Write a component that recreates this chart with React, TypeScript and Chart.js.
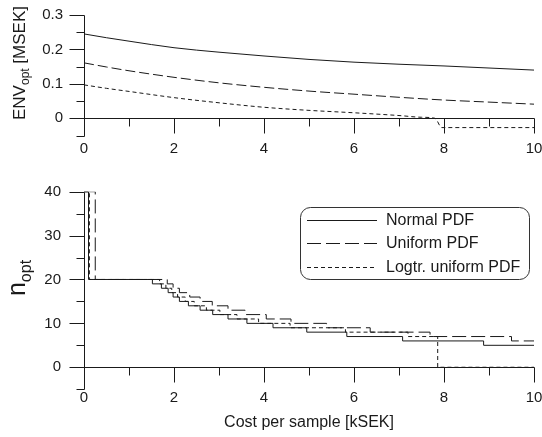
import React, { useEffect, useRef } from 'react';
import { Chart, registerables } from 'chart.js';

Chart.register(...registerables);

const FONT = '"Liberation Sans", Arial, Helvetica, sans-serif';
const INK = '#1a1a1a';

// ---------- shared axis (cost per sample, kSEK)
const costTicks = [0, 2, 4, 6, 8, 10];
const costMinor = [1, 3, 5, 7, 9];

// ---------- top panel: ENV_opt [MSEK]
const envYTicks = [0, 0.1, 0.2, 0.3];
const envYMinor = [-0.05, 0.05, 0.15, 0.25];

const envXNormal = [0, 0.5, 1, 2, 3, 4, 5, 6, 7, 8, 9, 10];
const envNormal = [0.245, 0.234, 0.224, 0.205, 0.192, 0.181, 0.171, 0.163, 0.157, 0.152, 0.146, 0.14];
const envXUniform = [0, 0.5, 1, 2, 3, 4, 5, 6, 7, 8, 9, 10];
const envUniform = [0.161, 0.149, 0.138, 0.119, 0.103, 0.09, 0.079, 0.07, 0.061, 0.053, 0.047, 0.041];
const envXLogtr = [0, 0.5, 1, 2, 3, 4, 5, 6, 7, 7.5, 7.8, 7.95, 9, 10];
const envLogtr = [0.097, 0.087, 0.078, 0.06, 0.045, 0.032, 0.023, 0.016, 0.008, 0.003, 0.0, -0.027, -0.027, -0.027];

// ---------- bottom panel: n_opt (step functions, value holds from x onwards)
const nYTicks = [0, 10, 20, 30, 40];
const nYMinor = [-5, 5, 15, 25, 35];

const nXNormal = [0, 0.1, 1.52, 1.72, 1.87, 1.98, 2.12, 2.32, 2.58, 2.86, 3.2, 3.62, 4.2, 4.95, 5.84, 7.08, 8.88, 10];
const nNormal = [40, 20, 19, 18, 17, 16, 15, 14, 13, 12, 11, 10, 9, 8, 7, 6, 5, 5];
const nXUniform = [0, 0.25, 1.85, 1.98, 2.12, 2.35, 2.58, 2.85, 3.2, 3.58, 4.05, 4.6, 5.39, 6.36, 7.69, 9.5, 10];
const nUniform = [40, 20, 19, 18, 17, 16, 15, 14, 13, 12, 11, 10, 9, 8, 7, 6, 6];
const nXLogtr = [0, 0.12, 1.68, 1.82, 1.95, 2.08, 2.25, 2.45, 2.72, 3.02, 3.4, 3.88, 4.58, 5.81, 7.2, 7.86, 10];
const nLogtr = [40, 20, 19, 18, 17, 16, 15, 14, 13, 12, 11, 10, 9, 8, 7, 0, 0];

const seriesLabels = ['Normal PDF', 'Uniform PDF', 'Logtr. uniform PDF'];
const dashTop = [[], [10, 4], [4, 3]];
const dashBottom = [[], [14, 5], [4, 3]];

const pts = (xs: number[], ys: number[]) => xs.map((x, i) => ({ x, y: ys[i] }));

type FrameCfg = {
  yMajor: number[];
  yMinor: number[];
  yLow: number;
  yHigh: number;
  yTitle: { main: string; sub: string; rest: string; mainSize: number; subSize: number; x: number; cy: number };
  xTitle?: string;
  legend?: boolean;
  dashes: number[][];
};

function makeFrame(cfg: FrameCfg) {
  return {
    id: 'frame',
    afterDatasetsDraw(chart: any) {
      const { ctx } = chart;
      const xs = chart.scales.x;
      const ys = chart.scales.y;
      const px = (v: number) => Math.round(xs.getPixelForValue(v)) + 0.5;
      const py = (v: number) => Math.round(ys.getPixelForValue(v)) + 0.5;
      ctx.save();
      ctx.strokeStyle = INK;
      ctx.lineWidth = 1;
      ctx.setLineDash([]);
      const ax = px(0);
      const ay = py(0);
      ctx.beginPath();
      ctx.moveTo(ax, py(cfg.yHigh));
      ctx.lineTo(ax, py(cfg.yLow));
      cfg.yMajor.forEach((v) => {
        ctx.moveTo(ax - 15, py(v));
        ctx.lineTo(ax, py(v));
      });
      cfg.yMinor.forEach((v) => {
        ctx.moveTo(ax - 8, py(v));
        ctx.lineTo(ax, py(v));
      });
      ctx.moveTo(px(costTicks[0]), ay);
      ctx.lineTo(px(costTicks[costTicks.length - 1]), ay);
      costTicks.forEach((v) => {
        ctx.moveTo(px(v), ay);
        ctx.lineTo(px(v), ay + 15);
      });
      costMinor.forEach((v) => {
        ctx.moveTo(px(v), ay);
        ctx.lineTo(px(v), ay + 8);
      });
      ctx.stroke();

      // rotated y title with subscript
      const t = cfg.yTitle;
      const mainFont = `${t.mainSize}px ${FONT}`;
      const subFont = `${t.subSize}px ${FONT}`;
      ctx.font = mainFont;
      const w1 = ctx.measureText(t.main).width;
      const w3 = ctx.measureText(t.rest).width;
      ctx.font = subFont;
      const w2 = ctx.measureText(t.sub).width;
      const total = w1 + w2 + w3;
      ctx.translate(t.x, t.cy);
      ctx.rotate(-Math.PI / 2);
      ctx.fillStyle = INK;
      ctx.textBaseline = 'alphabetic';
      ctx.textAlign = 'left';
      let cx = -total / 2;
      ctx.font = mainFont;
      ctx.fillText(t.main, cx, 0);
      cx += w1;
      ctx.font = subFont;
      ctx.fillText(t.sub, cx, t.subSize * 0.35);
      cx += w2;
      ctx.font = mainFont;
      ctx.fillText(t.rest, cx, 0);
      ctx.setTransform(1, 0, 0, 1, 0, 0);

      if (cfg.xTitle) {
        ctx.font = `16px ${FONT}`;
        ctx.textAlign = 'center';
        ctx.textBaseline = 'middle';
        ctx.fillText(cfg.xTitle, (xs.left + xs.right) / 2, chart.height - 14);
      }

      if (cfg.legend) {
        const bx = 300.5, by = 42.5, bw = 229, bh = 72;
        ctx.beginPath();
        ctx.roundRect(bx, by, bw, bh, 10);
        ctx.fillStyle = '#fff';
        ctx.fill();
        ctx.strokeStyle = '#333';
        ctx.stroke();
        ctx.font = `16px ${FONT}`;
        ctx.textAlign = 'left';
        ctx.textBaseline = 'middle';
        seriesLabels.forEach((lab, i) => {
          const ry = Math.round(by + 12 + i * 23.5) + 0.5;
          ctx.beginPath();
          ctx.setLineDash(cfg.dashes[i]);
          ctx.strokeStyle = INK;
          ctx.moveTo(307, ry);
          ctx.lineTo(377, ry);
          ctx.stroke();
          ctx.setLineDash([]);
          ctx.fillStyle = INK;
          ctx.fillText(lab, 386, ry);
        });
      }
      ctx.restore();
    },
  };
}

function baseOptions(yMin: number, yMax: number, yTicks: number[], yFmt: (v: number) => string, padding: any, labelPad: number, yLabelPad: number) {
  return {
    responsive: false,
    animation: false as const,
    layout: { padding },
    plugins: { legend: { display: false }, tooltip: { enabled: false } },
    scales: {
      x: {
        type: 'linear' as const,
        min: 0,
        max: 10,
        position: { y: 0 },
        afterBuildTicks: (s: any) => {
          s.ticks = costTicks.map((v) => ({ value: v }));
        },
        afterFit: (s: any) => {
          s.paddingLeft = 0;
          s.paddingRight = 0;
        },
        grid: { display: false, drawTicks: true, tickLength: labelPad },
        border: { display: false },
        ticks: { padding: 0, color: INK, font: { family: FONT, size: 15 }, maxRotation: 0, autoSkip: false },
      },
      y: {
        type: 'linear' as const,
        min: yMin,
        max: yMax,
        position: 'left' as const,
        afterBuildTicks: (s: any) => {
          s.ticks = yTicks.map((v) => ({ value: v }));
        },
        afterFit: (s: any) => {
          s.width = 84;
          s.paddingTop = 0;
          s.paddingBottom = 0;
        },
        grid: { display: false, drawTicks: false, tickLength: 0 },
        border: { display: false },
        ticks: { padding: yLabelPad, color: INK, font: { family: FONT, size: 15 }, callback: (v: any) => yFmt(Number(v)) },
      },
    },
  };
}

function TopChart() {
  const ref = useRef<HTMLCanvasElement | null>(null);
  useEffect(() => {
    const series = [pts(envXNormal, envNormal), pts(envXUniform, envUniform), pts(envXLogtr, envLogtr)];
    const chart = new Chart(ref.current as HTMLCanvasElement, {
      type: 'line',
      data: {
        datasets: series.map((d, i) => ({
          label: seriesLabels[i],
          data: d,
          borderColor: INK,
          borderWidth: 1,
          borderDash: dashTop[i],
          pointRadius: 0,
          cubicInterpolationMode: 'monotone' as const,
          fill: false,
        })),
      },
      options: baseOptions(-0.05, 0.3, envYTicks, (v) => (v === 0 ? '0' : v.toFixed(1)), { left: 0, top: 15, right: 8, bottom: 29.5 }, 22, 21) as any,
      plugins: [
        makeFrame({
          yMajor: envYTicks,
          yMinor: envYMinor,
          yLow: -0.05,
          yHigh: 0.3,
          yTitle: { main: 'ENV', sub: 'opt', rest: ' [MSEK]', mainSize: 17, subSize: 12, x: 25, cy: 63 },
          dashes: dashTop,
        }),
      ],
    });
    return () => chart.destroy();
  }, []);
  return <canvas ref={ref} width={542} height={165} style={{ position: 'absolute', left: 0, top: 0, width: 542, height: 165 }} />;
}

function BottomChart() {
  const ref = useRef<HTMLCanvasElement | null>(null);
  useEffect(() => {
    const series = [pts(nXNormal, nNormal), pts(nXUniform, nUniform), pts(nXLogtr, nLogtr)];
    const chart = new Chart(ref.current as HTMLCanvasElement, {
      type: 'line',
      data: {
        datasets: series.map((d, i) => ({
          label: seriesLabels[i],
          data: d,
          borderColor: INK,
          borderWidth: 1,
          borderDash: dashBottom[i],
          pointRadius: 0,
          stepped: 'before' as const,
          fill: false,
        })),
      },
      options: baseOptions(-5, 40, nYTicks, (v) => String(v), { left: 0, top: 26.7, right: 8, bottom: 47.8 }, 22, 23) as any,
      plugins: [
        makeFrame({
          yMajor: nYTicks,
          yMinor: nYMinor,
          yLow: -5,
          yHigh: 40,
          yTitle: { main: 'n', sub: 'opt', rest: '', mainSize: 25, subSize: 16, x: 25, cy: 113 },
          xTitle: 'Cost per sample [kSEK]',
          legend: true,
          dashes: dashBottom,
        }),
      ],
    });
    return () => chart.destroy();
  }, []);
  return <canvas ref={ref} width={542} height={272} style={{ position: 'absolute', left: 0, top: 165, width: 542, height: 272 }} />;
}

export default function App() {
  return (
    <div style={{ position: 'absolute', left: 0, top: 0, width: 542, height: 437, background: '#fff', overflow: 'hidden' }}>
      <TopChart />
      <BottomChart />
    </div>
  );
}
